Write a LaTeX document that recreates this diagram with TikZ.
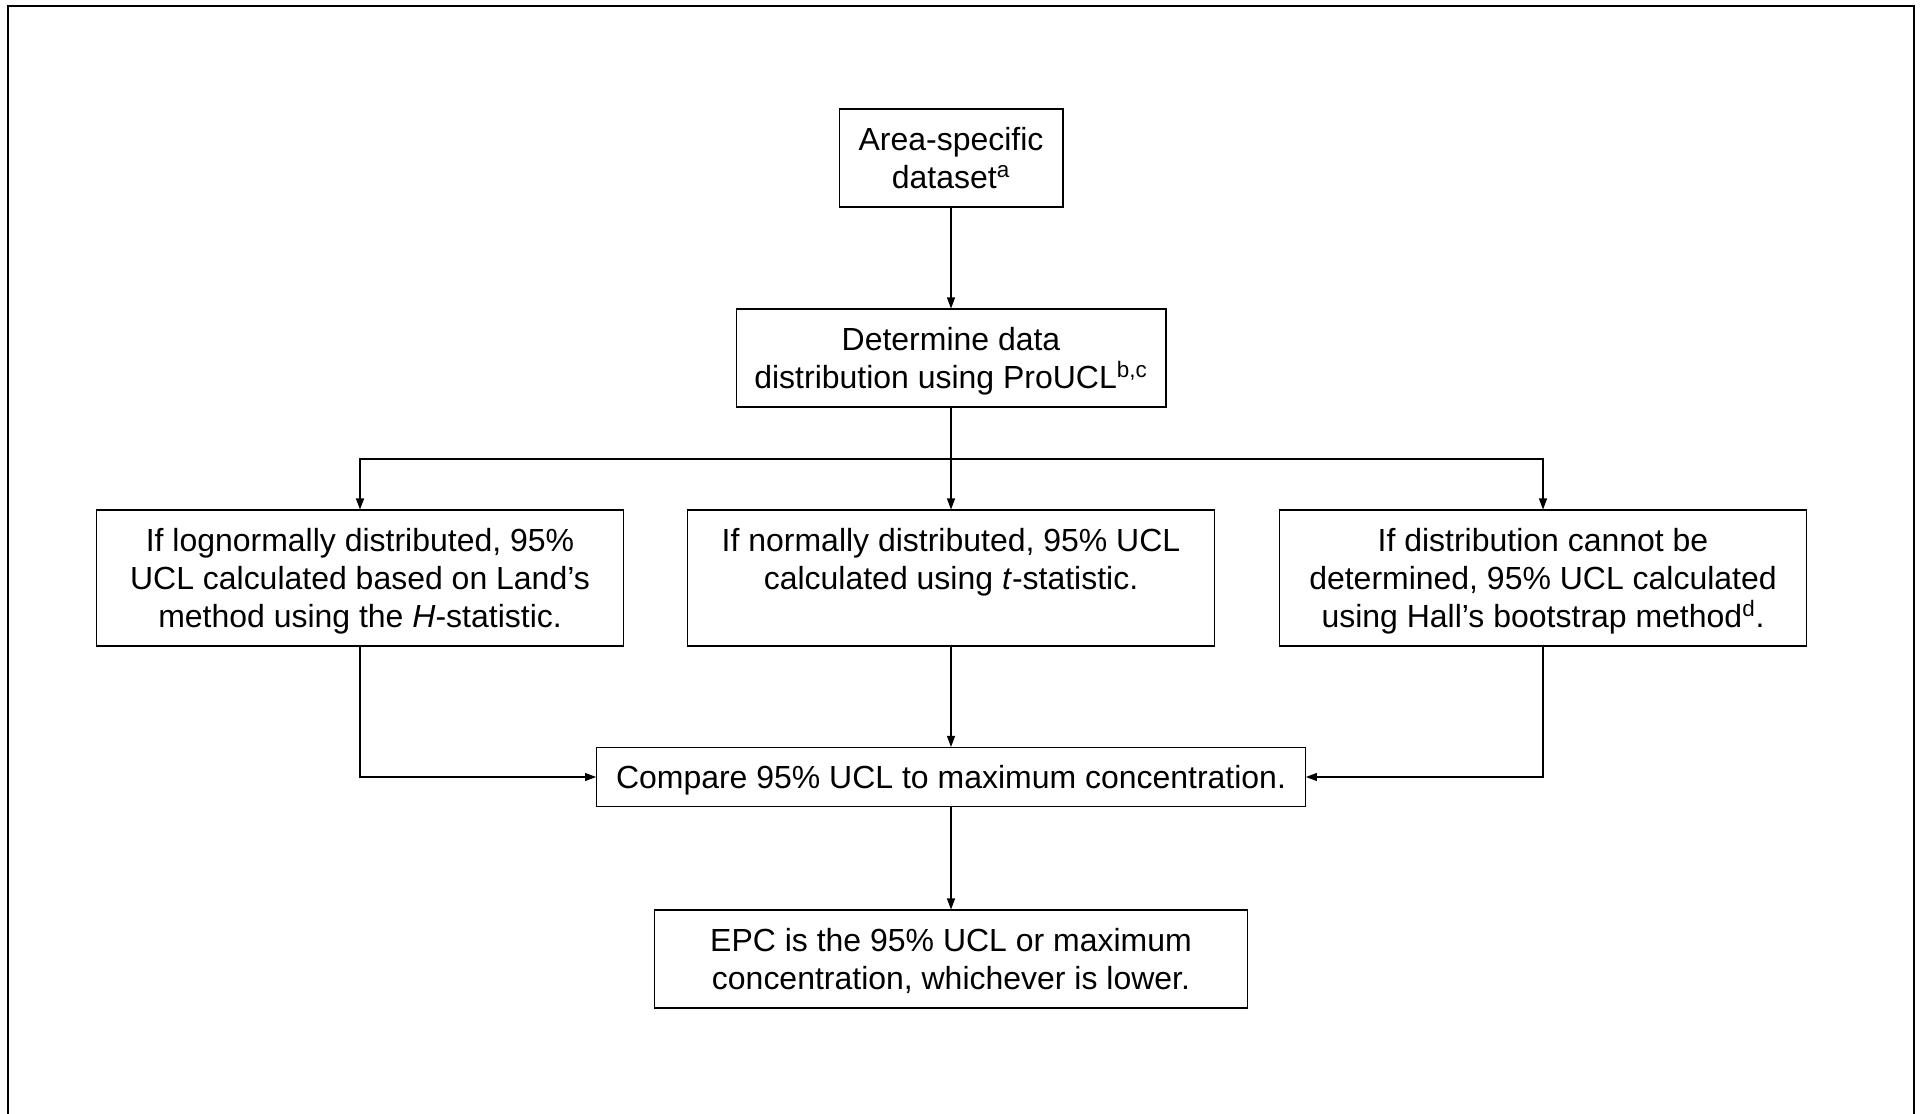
\documentclass[tikz,border=0pt]{standalone}
\usepackage{fontspec}
\setmainfont{Liberation Sans}
\usetikzlibrary{arrows.meta}

\tikzset{
    stepbox/.style={draw, line width=0.6pt, align=center, inner sep=0pt,
        text depth=0pt, font=\fontsize{18.2}{21.8}\selectfont},
    flow/.style={line width=0.6pt, -{Triangle[length=2.2mm, width=1.6mm]}}
}

\begin{document}
\begin{tikzpicture}[x=0.02cm, y=-0.02cm]
        \useasboundingbox (0, 0) rectangle (1923, 1114);
        \draw[line width=1.2pt] (8, 1114) |- (1914, 6) -- (1914, 1114);

        \node[stepbox, minimum width=4.48cm, minimum height=1.96cm] (data) at (951, 158) {Area-specific\\dataset\textsuperscript{a}};
        \node[stepbox, minimum width=8.6cm, minimum height=1.96cm] (dist) at (951, 358) {Determine data\\distribution using ProUCL\textsuperscript{b,c}};
        \node[stepbox, minimum width=10.56cm, minimum height=2.72cm] (lognorm) at (360, 578) {If lognormally distributed, 95\%\\UCL calculated based on Land’s\\method using the \textit{H}-statistic.};
        \node[stepbox, minimum width=10.56cm, minimum height=2.72cm] (norm) at (951, 578) {If normally distributed, 95\% UCL\\calculated using \textit{t}-statistic.\\~};
        \node[stepbox, minimum width=10.56cm, minimum height=2.72cm] (boot) at (1543, 578) {If distribution cannot be\\determined, 95\% UCL calculated\\using Hall’s bootstrap method\textsuperscript{d}.};
        \node[stepbox, minimum width=14.18cm, minimum height=1.18cm] (compare) at (951, 777) {Compare 95\% UCL to maximum concentration.};
        \node[stepbox, minimum width=11.88cm, minimum height=1.96cm] (epc) at (951, 959) {EPC is the 95\% UCL or maximum\\concentration, whichever is lower.};

        \coordinate (split) at (951, 459);

        \draw[flow] (data) -- (dist);
        \draw[flow] (dist) -- (norm);
        \draw[flow] (split) -| (lognorm.north);
        \draw[flow] (split) -| (boot.north);
        \draw[flow] (lognorm.south) |- (compare.west);
        \draw[flow] (norm) -- (compare);
        \draw[flow] (boot.south) |- (compare.east);
        \draw[flow] (compare) -- (epc);

\end{tikzpicture}
\end{document}
